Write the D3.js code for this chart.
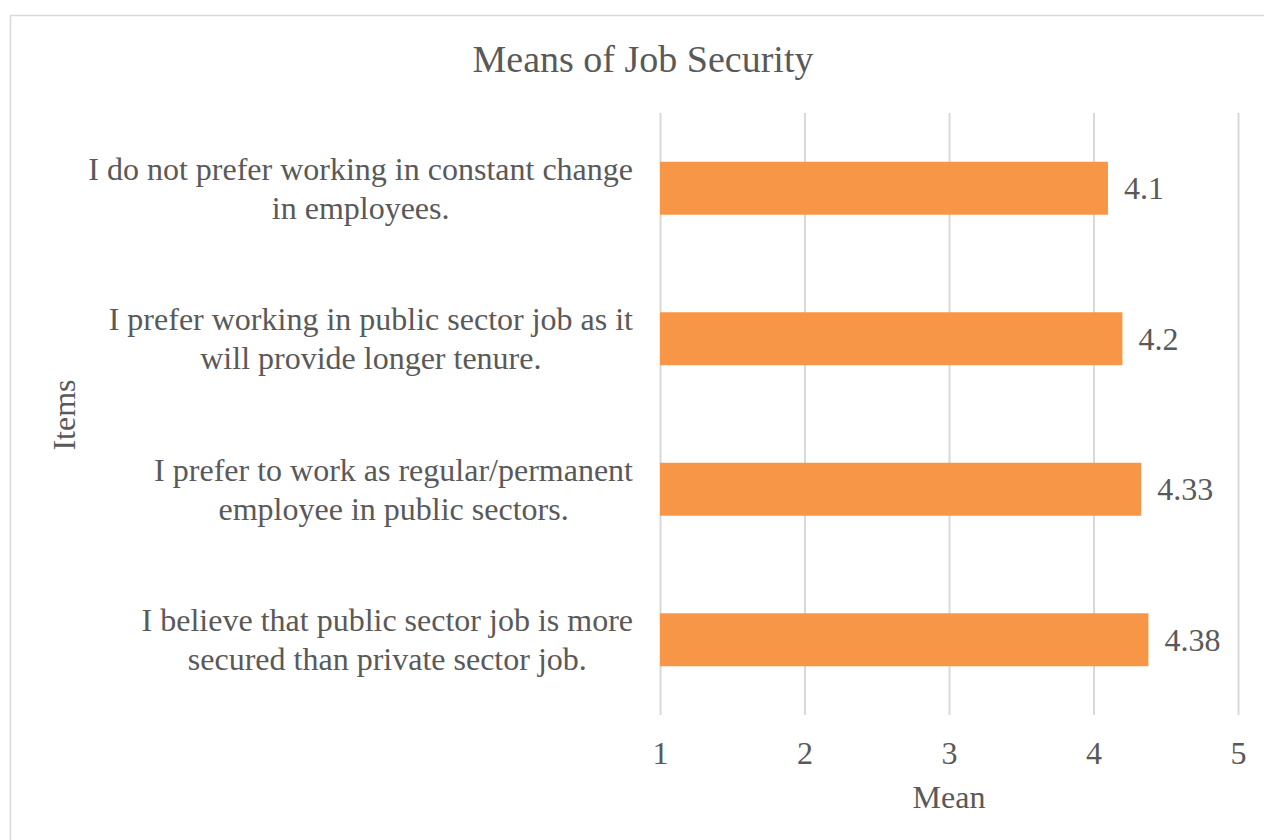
<!DOCTYPE html>
<html>
<head>
<meta charset="utf-8">
<script src="https://cdn.jsdelivr.net/npm/d3@7"></script>
<style>
  body { margin: 0; background: #fff; }
  svg { display: block; }
  text { font-family: "Liberation Serif", "Times New Roman", serif; fill: #595959; }
</style>
</head>
<body>
<svg id="chart"></svg>
<script>
// Data (top to bottom)
const items = [
  "I do not prefer working in constant change in employees.",
  "I prefer working in public sector job as it will provide longer tenure.",
  "I prefer to work as regular/permanent employee in public sectors.",
  "I believe that public sector job is more secured than private sector job."
];
const means = [4.1, 4.2, 4.33, 4.38];
const meanLabels = ["4.1", "4.2", "4.33", "4.38"];
const xTicks = [1, 2, 3, 4, 5];

const width = 1264, height = 840;
const margin = { top: 113, right: 26, bottom: 125, left: 660 };
const innerW = 578;
const innerH = height - margin.top - margin.bottom;

const svg = d3.select("#chart").attr("width", width).attr("height", height);

// chart border
svg.append("rect")
  .attr("x", 10.5).attr("y", 15.5)
  .attr("width", 1400).attr("height", 1000)
  .attr("fill", "none")
  .attr("stroke", "#d9d9d9")
  .attr("stroke-width", 1.5);

svg.append("text")
  .attr("x", 643).attr("y", 72)
  .attr("text-anchor", "middle")
  .style("font-size", "38px")
  .text("Means of Job Security");

const g = svg.append("g").attr("transform", `translate(${margin.left},${margin.top})`);

const x = d3.scaleLinear().domain([1, 5]).range([0, innerW]);

const y = d3.scaleBand()
  .domain(items)
  .range([0, innerH])
  .paddingInner(0.648)
  .paddingOuter(0.324);

// gridlines + tick labels
const xAxis = d3.axisBottom(x)
  .tickValues(xTicks)
  .tickFormat(d3.format("d"))
  .tickSizeInner(-innerH)
  .tickSizeOuter(0)
  .tickPadding(26);

const xg = g.append("g")
  .attr("transform", `translate(0,${innerH})`)
  .call(xAxis);
xg.select(".domain").remove();
xg.selectAll(".tick line").attr("stroke", "#d9d9d9").attr("stroke-width", 2);
xg.selectAll(".tick text")
  .attr("fill", "#595959")
  .style("font-family", "'Liberation Serif', 'Times New Roman', serif")
  .style("font-size", "32px");

// bars
g.selectAll(".bar")
  .data(means)
  .join("rect")
  .attr("class", "bar")
  .attr("x", x(1))
  .attr("y", (d, i) => y(items[i]))
  .attr("width", d => x(d) - x(1))
  .attr("height", y.bandwidth())
  .attr("fill", "#f79646");

// value labels
g.selectAll(".val")
  .data(means)
  .join("text")
  .attr("class", "val")
  .attr("x", d => x(d) + 16)
  .attr("y", (d, i) => y(items[i]) + y.bandwidth() / 2)
  .attr("dy", "0.35em")
  .style("font-size", "32px")
  .text((d, i) => meanLabels[i]);

// category labels: wrapped, lines centred in a block right-aligned near the axis
const labelRight = 633 - margin.left;
const lineH = 39;
items.forEach((item) => {
  const t = g.append("text")
    .attr("text-anchor", "middle")
    .style("font-size", "32px");
  const words = item.split(" ");
  const lines = [];
  let cur = [];
  const tsp = t.append("tspan");
  words.forEach(w => {
    cur.push(w);
    tsp.text(cur.join(" "));
    if (tsp.node().getComputedTextLength() > 555 && cur.length > 1) {
      cur.pop();
      lines.push(cur.join(" "));
      cur = [w];
    }
  });
  lines.push(cur.join(" "));
  let maxW = 0;
  lines.forEach(ln => {
    tsp.text(ln);
    maxW = Math.max(maxW, tsp.node().getComputedTextLength());
  });
  t.selectAll("tspan").remove();
  const cx = labelRight - maxW / 2;
  const cy = y(item) + y.bandwidth() / 2;
  lines.forEach((ln, k) => {
    t.append("tspan")
      .attr("x", cx)
      .attr("y", cy + (k - (lines.length - 1) / 2) * lineH)
      .attr("dy", "0.35em")
      .text(ln);
  });
});

// axis titles
svg.append("text")
  .attr("x", 949).attr("y", 808)
  .attr("text-anchor", "middle")
  .style("font-size", "32px")
  .text("Mean");

svg.append("text")
  .attr("transform", "translate(75,415) rotate(-90)")
  .attr("text-anchor", "middle")
  .style("font-size", "32px")
  .text("Items");
</script>
</body>
</html>
